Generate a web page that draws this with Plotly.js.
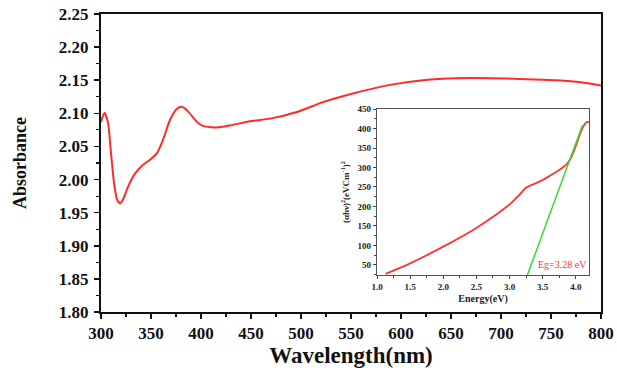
<!DOCTYPE html>
<html>
<head>
<meta charset="utf-8">
<script src="https://cdn.plot.ly/plotly-3.0.1.min.js"></script>
<style>html,body{margin:0;padding:0;background:#fff;}#chart{width:617px;height:368px;}</style>
</head>
<body>
<div id="chart"></div>
<script>
// Main spectrum: wavelength (nm) vs absorbance
var wavelength = [300, 303.5, 307, 310, 313, 316, 319, 322, 327, 334, 341, 349, 356, 362, 369, 376, 381, 387, 396, 402, 410, 418, 430, 449, 469, 496, 522, 552, 589, 622, 656, 690, 719, 756, 780, 800];
var absorbance = [2.087, 2.101, 2.086, 2.040, 1.995, 1.970, 1.964, 1.970, 1.989, 2.009, 2.021, 2.030, 2.040, 2.060, 2.090, 2.107, 2.110, 2.103, 2.087, 2.081, 2.079, 2.079, 2.082, 2.088, 2.092, 2.102, 2.117, 2.130, 2.143, 2.150, 2.153, 2.153, 2.152, 2.150, 2.147, 2.142];

// Inset: Tauc plot
var energy = [1.13, 1.5, 2.0, 2.5, 3.0, 3.15, 3.25, 3.36, 3.5, 3.65, 3.78, 3.87, 3.93, 4.0, 4.08, 4.13, 4.17, 4.2];
var tauc = [27, 54, 97, 145, 205, 230, 248, 257, 268, 283, 297, 310, 325, 355, 393, 410, 417, 416];

// Linear fit (extrapolation) line
var fitEnergy = [3.27, 4.1];
var fitTauc = [24, 408];

var xTicks = [300, 350, 400, 450, 500, 550, 600, 650, 700, 750, 800];
var yTicks = [1.80, 1.85, 1.90, 1.95, 2.00, 2.05, 2.10, 2.15, 2.20, 2.25];
var insetXTicks = [1.0, 1.5, 2.0, 2.5, 3.0, 3.5, 4.0];
var insetYTicks = [50, 100, 150, 200, 250, 300, 350, 400, 450];

var serif = "'Liberation Serif', 'Times New Roman', Times, serif";

var traces = [
  {x: wavelength, y: absorbance, type: 'scatter', mode: 'lines',
   line: {color: '#ff2a2a', width: 2, shape: 'spline', smoothing: 0.6},
   xaxis: 'x', yaxis: 'y', hoverinfo: 'skip'},
  {x: energy, y: tauc, type: 'scatter', mode: 'lines',
   line: {color: '#ff3333', width: 1.8, shape: 'spline', smoothing: 0.8},
   xaxis: 'x2', yaxis: 'y2', hoverinfo: 'skip'},
  {x: fitEnergy, y: fitTauc, type: 'scatter', mode: 'lines',
   line: {color: '#33dd33', width: 1.5},
   xaxis: 'x2', yaxis: 'y2', hoverinfo: 'skip'}
];

var layout = {
  width: 617, height: 368,
  margin: {l: 101, r: 16, t: 14, b: 56, pad: 0},
  paper_bgcolor: '#fff', plot_bgcolor: '#fff',
  showlegend: false,
  font: {family: serif},
  xaxis: {
    range: [300, 800], tickvals: xTicks, ticktext: xTicks.map(String),
    ticks: 'outside', ticklen: 5, tickwidth: 1.5, tickcolor: '#111',
    minor: {dtick: 25, tick0: 300, ticks: 'outside', ticklen: 3, tickwidth: 1.2, tickcolor: '#111'},
    showline: true, linewidth: 2, linecolor: '#111', mirror: true,
    showgrid: false, zeroline: false,
    tickfont: {family: serif, size: 17, color: '#111', weight: 'bold'},
    title: {text: 'Wavelength(nm)', standoff: 8, font: {family: serif, size: 23, color: '#111', weight: 'bold'}}
  },
  yaxis: {
    range: [1.80, 2.25], tickvals: yTicks, ticktext: yTicks.map(function(v){return v.toFixed(2);}),
    ticks: 'outside', ticklen: 5, tickwidth: 1.5, tickcolor: '#111',
    minor: {dtick: 0.025, tick0: 1.8, ticks: 'outside', ticklen: 3, tickwidth: 1.2, tickcolor: '#111'},
    showline: true, linewidth: 2, linecolor: '#111', mirror: true,
    showgrid: false, zeroline: false,
    ticklabelstandoff: 2,
    tickfont: {family: serif, size: 17, color: '#111', weight: 'bold'},
    title: {text: 'Absorbance', standoff: 28, font: {family: serif, size: 18, color: '#111', weight: 'bold'}}
  },
  xaxis2: {
    domain: [0.552, 0.976], anchor: 'y2', range: [1.0, 4.2],
    tickvals: insetXTicks, ticktext: insetXTicks.map(function(v){return v.toFixed(1);}),
    ticks: 'outside', ticklen: 3, tickwidth: 1, tickcolor: '#444',
    minor: {dtick: 0.25, tick0: 1.0, ticks: 'outside', ticklen: 2, tickwidth: 1, tickcolor: '#444'},
    showline: true, linewidth: 1.2, linecolor: '#555', mirror: true,
    showgrid: false, zeroline: false,
    tickfont: {family: serif, size: 9, color: '#222', weight: 'bold'},
    title: {text: 'Energy(eV)', standoff: 4, font: {family: serif, size: 10, color: '#222', weight: 'bold'}}
  },
  yaxis2: {
    domain: [0.124, 0.681], anchor: 'x2', range: [24, 450],
    tickvals: insetYTicks, ticktext: insetYTicks.map(String),
    ticks: 'outside', ticklen: 3, tickwidth: 1, tickcolor: '#444',
    minor: {dtick: 25, tick0: 0, ticks: 'outside', ticklen: 2, tickwidth: 1, tickcolor: '#444'},
    showline: true, linewidth: 1.2, linecolor: '#555', mirror: true,
    showgrid: false, zeroline: false,
    tickfont: {family: serif, size: 9, color: '#222', weight: 'bold'},
    title: {text: '(αhν)<sup>2</sup>(eVCm<sup>-1</sup>)<sup>2</sup>', standoff: 6, font: {family: serif, size: 9, color: '#222', weight: 'bold'}}
  },
  annotations: [
    {xref: 'x2', yref: 'y2', x: 3.8, y: 50, text: 'Eg=3.28 eV', showarrow: false,
     font: {family: serif, size: 10, color: '#ff3333'}}
  ]
};

Plotly.newPlot('chart', traces, layout, {staticPlot: true, displayModeBar: false});
</script>
</body>
</html>
